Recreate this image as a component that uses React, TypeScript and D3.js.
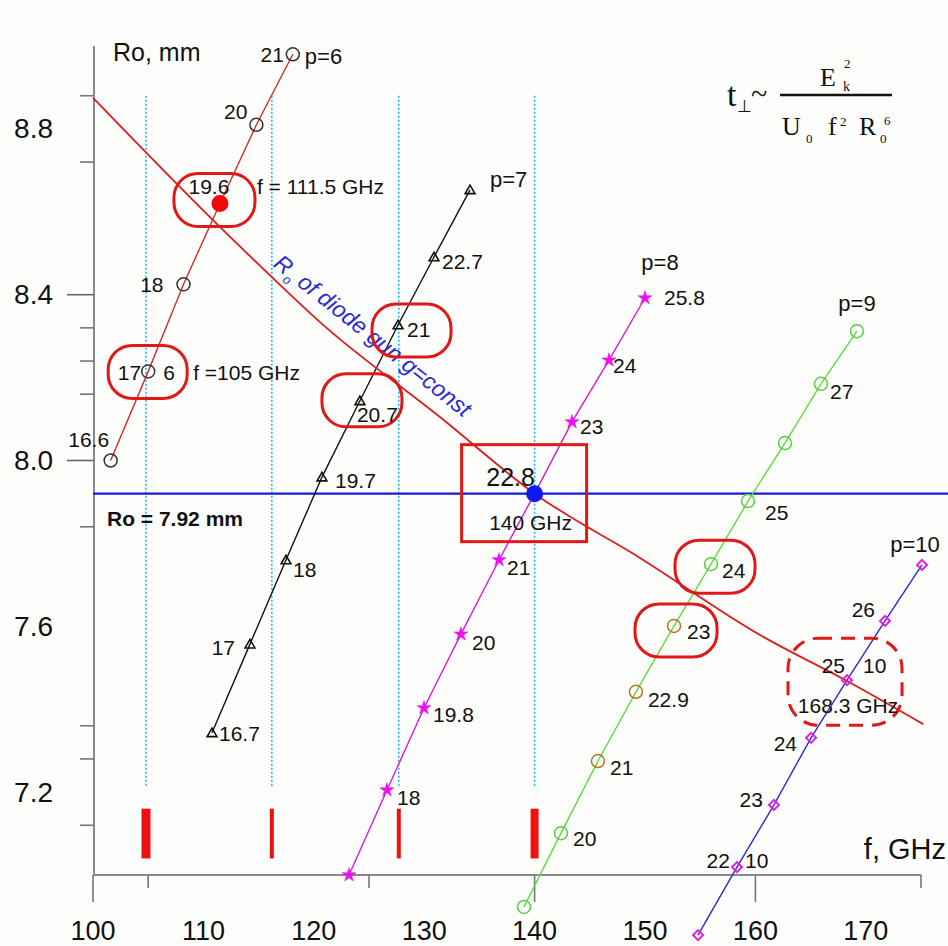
import React from 'react';
import * as d3 from 'd3';

const W = 948;
const H = 946;

// Axis ticks: frequency f (GHz) and beam radius Ro (mm)
const xTickLabels = [100, 110, 120, 130, 140, 150, 160, 170];
const xLongTicks = [100, 140, 160];
const xShortTicks = [105, 125, 175];
const yTickLabels = [8.8, 8.4, 8.0, 7.6, 7.2];
const yLongTicks = [8.4, 8.0];
const yShortTicks = [8.88, 8.72, 8.32, 8.24, 8.16, 7.84, 7.36, 7.28, 7.12];

// Mode lines p = 6 ... 10 : frequency, radius and the value written next to each point
const p6F = [101.6, 105, 108.2, 111.5, 114.8, 118.1];
const p6R = [8.0, 8.215, 8.425, 8.62, 8.81, 8.98];
const p6Labels = ['16.6', '17', '18', '19.6', '20', '21'];

const p7F = [110.78, 114.22, 117.48, 120.74, 124.18, 127.63, 130.89, 134.15];
const p7R = [7.343, 7.557, 7.76, 7.96, 8.144, 8.327, 8.491, 8.653];
const p7Labels = ['16.7', '17', '18', '19.7', '20.7', '21', '22.7', ''];

const p8F = [123.19, 126.63, 129.98, 133.33, 136.78, 140.0, 143.39, 146.74, 150.0];
const p8R = [7.0, 7.205, 7.403, 7.581, 7.76, 7.92, 8.093, 8.242, 8.392];
const p8Labels = ['', '18', '19.8', '20', '21', '22.8', '23', '24', '25.8'];

const p9F = [139.04, 142.39, 145.74, 149.18, 152.63, 155.98, 159.33, 162.68, 165.94, 169.2];
const p9R = [6.923, 7.101, 7.275, 7.442, 7.601, 7.75, 7.902, 8.042, 8.185, 8.312];
const p9Labels = ['', '20', '21', '22.9', '23', '24', '25', '', '27', ''];

const p10F = [154.8, 158.33, 161.68, 165.04, 168.3, 171.74, 175.09];
const p10R = [6.855, 7.019, 7.169, 7.331, 7.47, 7.613, 7.748];
const p10Labels = ['', '22', '23', '24', '25', '26', ''];

// Ro of the diode gun at g = const
const gunF = [100, 110.87, 116.3, 120.56, 131.43, 140, 149.55, 160.42, 168.3, 175.2];
const gunR = [8.875, 8.58, 8.44, 8.334, 8.105, 7.92, 7.765, 7.579, 7.468, 7.364];

// Chosen beam radius and the marked frequencies
const roLevel = 7.92;
const markF = [104.8, 116.2, 127.7, 140];
const markSpan = [7.21, 8.88];
const barSpan = [7.04, 7.16];

// ---- layout of labels (dx, dy, anchor) ----
type Place = [number, number, string];
const p6Place: Place[] = [[-22, -21, 'middle'], [-7, 1, 'end'], [-20, 0, 'end'], [-11, -17, 'middle'], [-9, -13, 'end'], [-9, 0, 'end']];
const p7Place: Place[] = [[7, 1, 'start'], [-15, 3, 'end'], [7, 10, 'start'], [13, 3, 'start'], [-3, 14, 'start'], [9, 5, 'start'], [8, 5, 'start'], [0, 0, 'start']];
const p8Place: Place[] = [[0, 0, 'start'], [10, 7, 'start'], [9, 7, 'start'], [11, 8, 'start'], [8, 8, 'start'], [-24, -17, 'middle'], [8, 5, 'start'], [4, 5, 'start'], [19, -1, 'start']];
const p9Place: Place[] = [[0, 0, 'start'], [12, 5, 'start'], [12, 6, 'start'], [12, 8, 'start'], [13, 6, 'start'], [11, 6, 'start'], [17, 11, 'start'], [0, 0, 'start'], [9, 8, 'start'], [0, 0, 'start']];
const p10Place: Place[] = [[0, 0, 'start'], [-7, -7, 'end'], [-11, -5, 'end'], [-14, 6, 'end'], [-2, -15, 'end'], [-10, -11, 'end'], [0, 0, 'start']];

type Series = {
  name: string;
  f: number[];
  r: number[];
  labels: string[];
  place: Place[];
  namePlace: Place;
  line: string;
  marker: 'circle' | 'triangle' | 'star' | 'diamond';
  stroke: string;
  fill: string;
};

const series: Series[] = [
  { name: 'p=6', f: p6F, r: p6R, labels: p6Labels, place: p6Place, namePlace: [12, 2, 'start'], line: '#d42a2a', marker: 'circle', stroke: '#333', fill: 'none' },
  { name: 'p=7', f: p7F, r: p7R, labels: p7Labels, place: p7Place, namePlace: [20, -10, 'start'], line: '#111', marker: 'triangle', stroke: '#111', fill: 'none' },
  { name: 'p=8', f: p8F, r: p8R, labels: p8Labels, place: p8Place, namePlace: [15, -36, 'middle'], line: '#d81ad8', marker: 'star', stroke: 'none', fill: '#ee10ee' },
  { name: 'p=9', f: p9F, r: p9R, labels: p9Labels, place: p9Place, namePlace: [0, -28, 'middle'], line: '#62d840', marker: 'circle', stroke: '#55d040', fill: 'none' },
  { name: 'p=10', f: p10F, r: p10R, labels: p10Labels, place: p10Place, namePlace: [-7, -20, 'middle'], line: '#2a2ad0', marker: 'diamond', stroke: '#e020e0', fill: 'none' },
];

// extra texts attached to a point: [series, index, text, dx, dy, anchor]
const notes: [number, number, string, number, number, string][] = [
  [0, 1, '6', 15, 1, 'start'],
  [0, 1, 'f =105 GHz', 45, 1, 'start'],
  [0, 3, 'f = 111.5 GHz', 37, -17, 'start'],
  [2, 5, '140 GHz', -4, 29, 'middle'],
  [4, 1, '10', 8, -7, 'start'],
  [4, 4, '10', 16, -15, 'start'],
  [4, 4, '168.3 GHz', 1, 25, 'middle'],
];

// frames around selected points: [series, index, dx, dy, w, h, rx, dashed]
const frames: [number, number, number, number, number, number, number, boolean][] = [
  [0, 1, -40, -26, 79, 53, 24, false],
  [0, 3, -46, -30, 81, 53, 24, false],
  [1, 5, -26, -21, 79, 53, 24, false],
  [1, 4, -38, -27, 80, 53, 24, false],
  [2, 5, -73, -49, 125, 97, 0, false],
  [3, 5, -36, -24, 80, 53, 24, false],
  [3, 4, -39, -22, 82, 53, 24, false],
  [4, 4, -59, -42, 114, 87, 30, true],
];

const barWidths = [9, 4, 4, 8];
const brownPts = [2, 3, 4];

const x = d3.scaleLinear().domain([100, 175]).range([93, 921]);
const y = d3.scaleLinear().domain([7, 9]).range([875, 46]);

const SANS = '"Liberation Sans", Arial, sans-serif';
const SERIF = '"Liberation Serif", "Times New Roman", serif';
const RED = '#e01818';

function Marker({ kind, cx, cy, stroke, fill }: { kind: string; cx: number; cy: number; stroke: string; fill: string }) {
  if (kind === 'circle') {
    return <circle cx={cx} cy={cy} r={6.5} fill={fill} stroke={stroke} strokeWidth={1.5} />;
  }
  if (kind === 'triangle') {
    const d = d3.symbol().type(d3.symbolTriangle).size(42)() as string;
    return <path d={d} transform={`translate(${cx},${cy + 1})`} fill="none" stroke={stroke} strokeWidth={1.6} />;
  }
  if (kind === 'star') {
    const d = d3.symbol().type(d3.symbolStar).size(62)() as string;
    return <path d={d} transform={`translate(${cx},${cy})`} fill={fill} stroke={fill} strokeWidth={0.5} />;
  }
  const d = d3.symbol().type(d3.symbolSquare).size(50)() as string;
  return <path d={d} transform={`translate(${cx},${cy}) rotate(45)`} fill="none" stroke={stroke} strokeWidth={2} />;
}

export default function App() {
  const lineGen = d3.line<[number, number]>().x((d) => x(d[0])).y((d) => y(d[1]));
  const gunLine = d3
    .line<[number, number]>()
    .x((d) => x(d[0]))
    .y((d) => y(d[1]))
    .curve(d3.curveMonotoneX);
  const gunPts = gunF.map((f, i) => [f, gunR[i]] as [number, number]);

  const pt = (s: number, i: number) => [x(series[s].f[i]), y(series[s].r[i])];

  return (
    <svg width={W} height={H} style={{ position: 'absolute', left: 0, top: 0, background: '#fff' }} fontFamily={SANS}>
      <rect width={W} height={H} fill="#fdfefc" />

      {/* marked frequencies */}
      {markF.map((f, i) => (
        <line key={'v' + i} x1={x(f)} x2={x(f)} y1={y(markSpan[1])} y2={y(markSpan[0])} stroke="#18b8f0" strokeWidth={1.6} strokeDasharray="2,2" />
      ))}
      {markF.map((f, i) => (
        <rect key={'b' + i} x={x(f) - barWidths[i] / 2} y={y(barSpan[1])} width={barWidths[i]} height={y(barSpan[0]) - y(barSpan[1])} fill="#f01010" />
      ))}

      {/* axes */}
      <line x1={x(100)} x2={x(175)} y1={y(7)} y2={y(7)} stroke="#8a8a8a" strokeWidth={2} />
      <line x1={x(100) + 1} x2={x(100) + 1} y1={y(9)} y2={y(7)} stroke="#8a8a8a" strokeWidth={2} />
      {xLongTicks.map((t) => (
        <line key={'xl' + t} x1={x(t)} x2={x(t)} y1={y(7)} y2={y(7) + 27} stroke="#777" strokeWidth={1.6} />
      ))}
      {xShortTicks.map((t) => (
        <line key={'xs' + t} x1={x(t)} x2={x(t)} y1={y(7)} y2={y(7) + 13} stroke="#777" strokeWidth={1.6} />
      ))}
      {xTickLabels.map((t) => (
        <text key={'xt' + t} x={x(t)} y={931} fontSize={27} textAnchor="middle" dominantBaseline="central" fill="#111">
          {t}
        </text>
      ))}
      {yLongTicks.map((t) => (
        <line key={'yl' + t} x1={67} x2={94} y1={y(t)} y2={y(t)} stroke="#666" strokeWidth={1.6} />
      ))}
      {yShortTicks.map((t) => (
        <line key={'ys' + t} x1={80} x2={94} y1={y(t)} y2={y(t)} stroke="#777" strokeWidth={1.6} />
      ))}
      {yTickLabels.map((t) => (
        <text key={'yt' + t} x={53} y={y(t)} fontSize={28} textAnchor="end" dominantBaseline="central" fill="#111">
          {t.toFixed(1)}
        </text>
      ))}
      <text x={113} y={52} fontSize={25} dominantBaseline="central" fill="#111">Ro, mm</text>
      <text x={946} y={849} fontSize={29} textAnchor="end" dominantBaseline="central" fill="#111">f, GHz</text>

      {/* chosen radius */}
      <line x1={x(100)} x2={W} y1={y(roLevel)} y2={y(roLevel)} stroke="#1a1ad0" strokeWidth={2.2} />
      <text x={107} y={518} fontSize={21} fontWeight="bold" dominantBaseline="central" fill="#111">
        Ro = 7.92 mm
      </text>

      {/* mode lines */}
      {series.map((s, si) => (
        <path key={'l' + si} d={lineGen(s.f.map((f, i) => [f, s.r[i]] as [number, number])) as string} fill="none" stroke={s.line} strokeWidth={1.4} />
      ))}

      {/* diode gun curve */}
      <path d={gunLine(gunPts) as string} fill="none" stroke="#d81e1e" strokeWidth={1.8} />
      <text
        transform={`translate(${x(124.9)},${y(8.286)}) rotate(38.5)`}
        fontSize={23}
        fontStyle="italic"
        fill="#2a2ad0"
        textAnchor="middle"
      >
        R<tspan fontSize={13} dy={6}>o</tspan>
        <tspan dy={-6}> of diode gun g=const</tspan>
      </text>

      {/* markers */}
      {series.map((s, si) =>
        s.f.map((f, i) => {
          const cx = x(f);
          const cy = y(s.r[i]);
          if (si === 0 && i === 3) return <circle key={`m${si}-${i}`} cx={cx} cy={cy} r={8.5} fill="#f00808" />;
          if (si === 2 && i === 5) return <circle key={`m${si}-${i}`} cx={cx} cy={cy} r={8.5} fill="#0a1af0" />;
          const stroke = si === 3 && brownPts.includes(i) ? '#b07820' : s.stroke;
          return <Marker key={`m${si}-${i}`} kind={s.marker} cx={cx} cy={cy} stroke={stroke} fill={s.fill} />;
        })
      )}

      {/* frames */}
      {frames.map(([si, i, dx, dy, w, h, rx, dashed], k) => {
        const [px, py] = pt(si, i);
        return (
          <rect
            key={'fr' + k}
            x={px + dx}
            y={py + dy}
            width={w}
            height={h}
            rx={rx}
            fill="none"
            stroke={RED}
            strokeWidth={3}
            strokeDasharray={dashed ? '14,9' : undefined}
          />
        );
      })}

      {/* value labels */}
      {series.map((s, si) =>
        s.labels.map((lab, i) => {
          if (!lab) return null;
          const [dx, dy, anchor] = s.place[i];
          return (
            <text
              key={`t${si}-${i}`}
              x={x(s.f[i]) + dx}
              y={y(s.r[i]) + dy}
              fontSize={si === 2 && i === 5 ? 25 : 21}
              textAnchor={anchor as any}
              dominantBaseline="central"
              fill="#111"
            >
              {lab}
            </text>
          );
        })
      )}
      {series.map((s, si) => {
        const n = s.f.length - 1;
        const [dx, dy, anchor] = s.namePlace;
        return (
          <text key={'n' + si} x={x(s.f[n]) + dx} y={y(s.r[n]) + dy} fontSize={22} textAnchor={anchor as any} dominantBaseline="central" fill="#111">
            {s.name}
          </text>
        );
      })}
      {notes.map(([si, i, txt, dx, dy, anchor], k) => {
        const [px, py] = pt(si, i);
        return (
          <text key={'no' + k} x={px + dx} y={py + dy} fontSize={21} textAnchor={anchor as any} dominantBaseline="central" fill="#111">
            {txt}
          </text>
        );
      })}

      {/* t_perp ~ Ek^2 / (U0 f^2 R0^6) */}
      <g fontFamily={SERIF} fill="#111">
        <text x={727} y={106} fontSize={34}>t</text>
        <text x={737} y={112} fontSize={17}>⊥</text>
        <text x={751} y={104} fontSize={30}>~</text>
        <line x1={780} x2={892} y1={95} y2={95} stroke="#111" strokeWidth={2.5} />
        <text x={820} y={86} fontSize={26}>E</text>
        <text x={844} y={68} fontSize={13}>2</text>
        <text x={843} y={91} fontSize={14}>k</text>
        <text x={782} y={135} fontSize={26}>U</text>
        <text x={806} y={143} fontSize={13}>0</text>
        <text x={828} y={135} fontSize={26}>f</text>
        <text x={840} y={126} fontSize={13}>2</text>
        <text x={859} y={135} fontSize={26}>R</text>
        <text x={880} y={143} fontSize={13}>0</text>
        <text x={884} y={125} fontSize={13}>6</text>
      </g>
    </svg>
  );
}
